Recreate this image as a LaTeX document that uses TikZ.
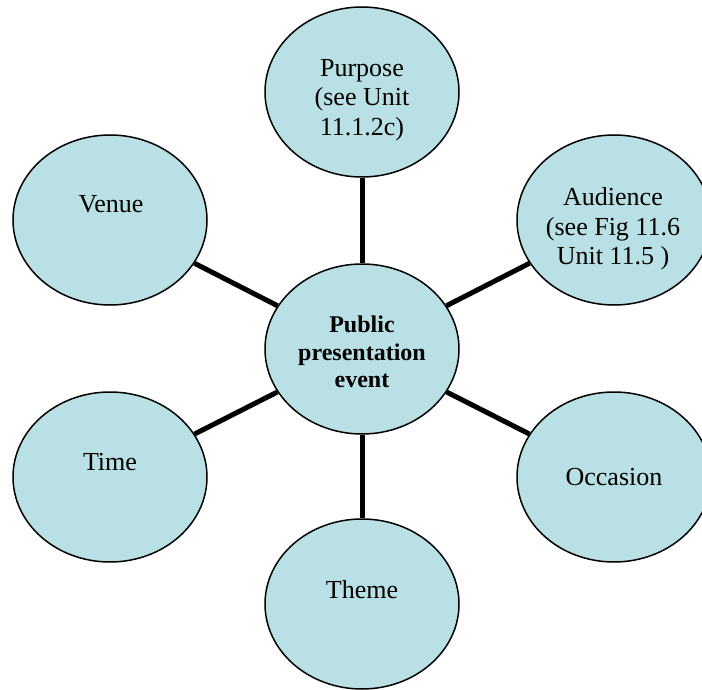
\documentclass[tikz,border=0pt]{standalone}
\usepackage{fontspec}
\setmainfont{Liberation Serif}
\usetikzlibrary{shapes.geometric}
\definecolor{bubblefill}{RGB}{185,224,228}
\begin{document}
\begin{tikzpicture}[x=1pt,y=-1pt,
  bubble/.style={ellipse,draw=black,line width=1.5pt,fill=bubblefill,
    minimum width=194pt,minimum height=170pt,inner sep=0pt},
  spoke/.style={line width=5pt,black},
  label/.style={inner sep=0pt,align=center,
    font=\fontsize{26}{29.5}\selectfont},
  hublabel/.style={inner sep=0pt,align=center,
    font=\fontsize{24}{27.5}\selectfont\bfseries}]
\useasboundingbox (0,0) rectangle (702,690);

% bubbles
\node[bubble] (hub) at (362,349) {};
\node[bubble] (purpose) at (362,92) {};
\node[bubble] (audience) at (614,220) {};
\node[bubble] (venue) at (110,220) {};
\node[bubble] (time) at (110,477) {};
\node[bubble] (occasion) at (614,477) {};
\node[bubble] (theme) at (362,604) {};

% spokes from the hub to each bubble
\foreach \t in {purpose,audience,venue,time,occasion,theme}
  \draw[spoke] (hub) -- (\t);

% texts
\node[hublabel] (hubtext) at (362,352) {Public\\presentation\\event};
\node[label] (purposetext) at (362,100) {Purpose\\(see Unit\\11.1.2c)};
\node[label] (audiencetext) at (613,229) {Audience\\(see Fig 11.6\\Unit 11.5 )};
\node[label,anchor=base] (venuetext) at (111,212) {Venue};
\node[label,anchor=base] (timetext) at (110,470) {Time};
\node[label,anchor=base] (occasiontext) at (614,485) {Occasion};
\node[label,anchor=base] (themetext) at (362,598) {Theme};
\end{tikzpicture}
\end{document}
